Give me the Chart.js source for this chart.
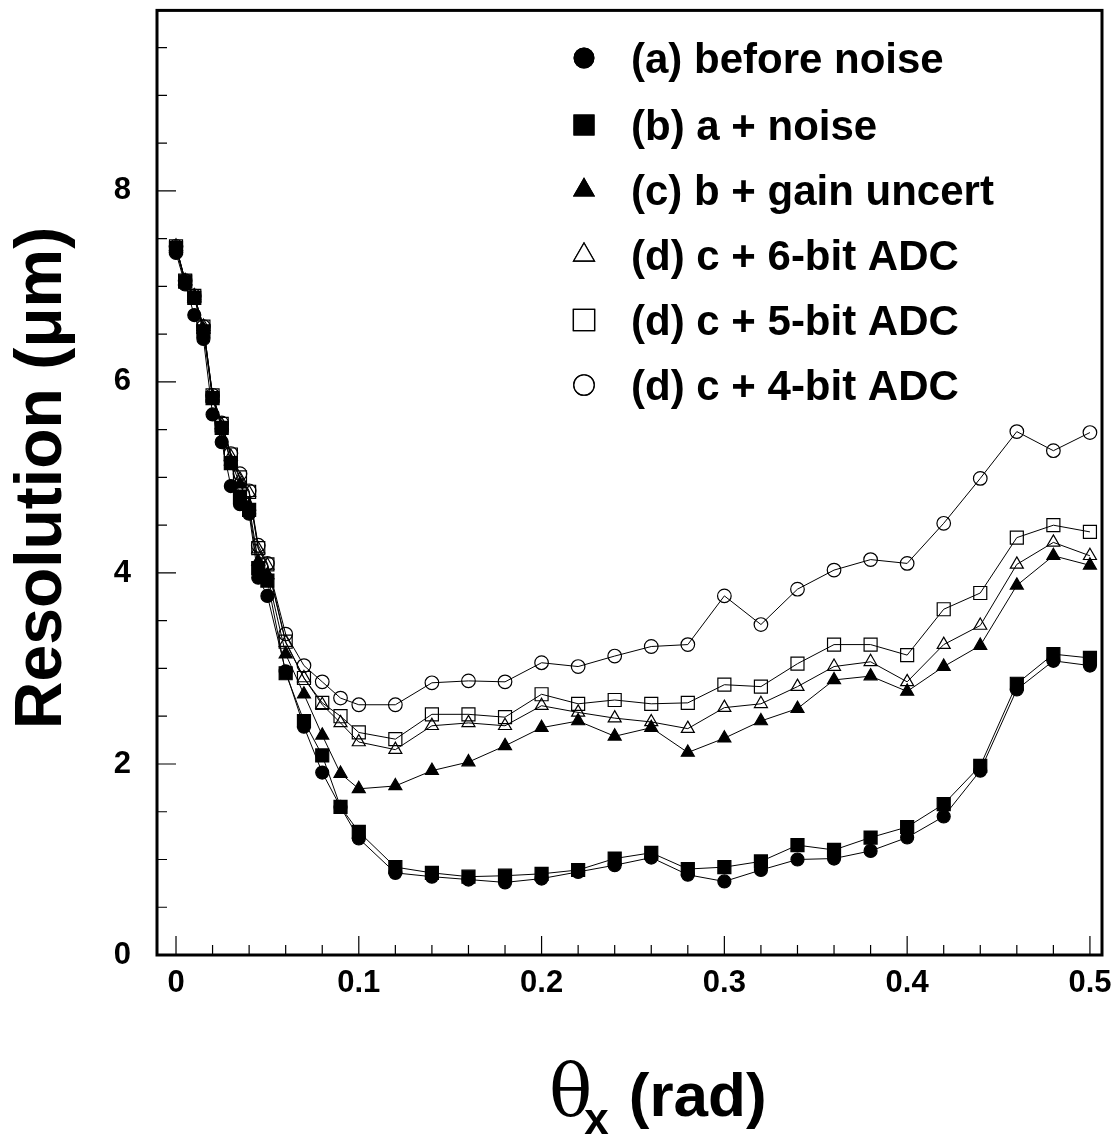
<!DOCTYPE html>
<html>
<head>
<meta charset="utf-8">
<script src="https://cdn.jsdelivr.net/npm/chart.js@4.4.1/dist/chart.umd.min.js"></script>
<style>
  html, body { margin: 0; padding: 0; background: #fff; }
  #wrap { width: 1113px; height: 1138px; }
</style>
</head>
<body>
<div id="wrap"><canvas id="chart" width="1113" height="1138"></canvas></div>
<script>
// theta_x (rad)
const thetaX = [0, 0.005, 0.01, 0.015, 0.02, 0.025, 0.03, 0.035, 0.04, 0.045, 0.05,
  0.06, 0.07, 0.08, 0.09, 0.1, 0.12, 0.14, 0.16, 0.18, 0.2, 0.22, 0.24, 0.26, 0.28,
  0.3, 0.32, 0.34, 0.36, 0.38, 0.4, 0.42, 0.44, 0.46, 0.48, 0.5];

// resolution (um)
const beforeNoise = [7.35, 7.02, 6.70, 6.45, 5.66, 5.37, 4.91, 4.72, 4.62, 3.95, 3.76,
  2.97, 2.39, 1.91, 1.55, 1.22, 0.86, 0.82, 0.79, 0.76, 0.80, 0.87, 0.94, 1.02, 0.84,
  0.77, 0.89, 1.00, 1.01, 1.09, 1.23, 1.45, 1.93, 2.78, 3.08, 3.03];
const withNoise = [7.40, 7.05, 6.88, 6.53, 5.83, 5.52, 5.15, 4.80, 4.66, 4.05, 3.92,
  2.95, 2.45, 2.09, 1.55, 1.29, 0.92, 0.86, 0.82, 0.83, 0.85, 0.89, 1.01, 1.07, 0.90,
  0.92, 0.98, 1.15, 1.10, 1.23, 1.34, 1.58, 1.98, 2.84, 3.15, 3.11];
const gainUncert = [7.40, 7.05, 6.88, 6.55, 5.83, 5.52, 5.17, 4.93, 4.70, 4.12, 3.98,
  3.15, 2.73, 2.30, 1.90, 1.74, 1.77, 1.93, 2.02, 2.19, 2.38, 2.45, 2.29, 2.38, 2.12,
  2.27, 2.45, 2.58, 2.88, 2.92, 2.76, 3.02, 3.24, 3.87, 4.18, 4.08];
const adc6 = [7.42, 7.06, 6.90, 6.58, 5.85, 5.55, 5.22, 4.98, 4.84, 4.25, 4.08,
  3.27, 2.90, 2.62, 2.43, 2.23, 2.15, 2.40, 2.43, 2.40, 2.61, 2.54, 2.48, 2.44, 2.37,
  2.59, 2.63, 2.81, 3.02, 3.07, 2.86, 3.25, 3.45, 4.09, 4.32, 4.18];
const adc5 = [7.42, 7.06, 6.90, 6.58, 5.86, 5.56, 5.24, 5.00, 4.85, 4.26, 4.09,
  3.28, 2.90, 2.64, 2.50, 2.33, 2.26, 2.52, 2.52, 2.49, 2.73, 2.63, 2.67, 2.63, 2.64,
  2.83, 2.81, 3.05, 3.25, 3.25, 3.14, 3.62, 3.79, 4.37, 4.50, 4.43];
const adc4 = [7.42, 7.06, 6.90, 6.58, 5.86, 5.57, 5.25, 5.04, 4.86, 4.29, 4.10,
  3.36, 3.03, 2.86, 2.69, 2.62, 2.62, 2.85, 2.87, 2.86, 3.06, 3.02, 3.13, 3.23, 3.25,
  3.76, 3.46, 3.83, 4.03, 4.14, 4.10, 4.52, 4.99, 5.48, 5.28, 5.47];

const seriesLabels = ['(a) before noise', '(b) a + noise', '(c) b + gain uncert',
  '(d) c + 6-bit ADC', '(d) c + 5-bit ADC', '(d) c + 4-bit ADC'];

const xTickValues = [0, 0.1, 0.2, 0.3, 0.4, 0.5];
const xTickLabels = ['0', '0.1', '0.2', '0.3', '0.4', '0.5'];
const yTickValues = [0, 2, 4, 6, 8];
const yTickLabels = ['0', '2', '4', '6', '8'];

const SANS = '"Liberation Sans", Arial, Helvetica, sans-serif';

// marker look per series: style, radius in plot, radius in legend, filled?
const markers = [
  { style: 'circle',   r: 6.5, lr: 9.8,  filled: true },
  { style: 'rect',     r: 9.2, lr: 14,   filled: true },
  { style: 'triangle', r: 7.5, lr: 11.5, filled: true },
  { style: 'triangle', r: 7.5, lr: 12,   filled: false },
  { style: 'rect',     r: 9.2, lr: 15,   filled: false },
  { style: 'circle',   r: 6.8, lr: 10.2, filled: false }
];

const allSeries = [beforeNoise, withNoise, gainUncert, adc6, adc5, adc4];

const datasets = allSeries.map((vals, i) => {
  const m = markers[i];
  return {
    label: seriesLabels[i],
    data: thetaX.map((x, k) => ({ x: x, y: vals[k] })),
    showLine: true,
    borderColor: '#000',
    borderWidth: 1,
    pointStyle: m.style,
    pointRadius: m.r,
    pointBorderWidth: 1.2,
    pointBorderColor: '#000',
    pointBackgroundColor: m.filled ? '#000' : 'rgba(255,255,255,0)',
    order: i
  };
});

// no extra room around the scales, the plot box is fixed
function noPad(s) {
  s.paddingTop = 0;
  s.paddingBottom = 0;
  s.paddingLeft = 0;
  s.paddingRight = 0;
}

// inward ticks, frame, legend and axis titles
const decorPlugin = {
  id: 'decor',
  afterDatasetsDraw(chart) {
    const ctx = chart.ctx;
    const a = chart.chartArea;
    const xs = chart.scales.x;
    const ys = chart.scales.y;
    ctx.save();
    ctx.strokeStyle = '#000';
    ctx.lineWidth = 1.2;
    ctx.beginPath();
    // x ticks: major every 0.1, minor every 0.02
    for (let k = 0; k <= 25; k++) {
      const px = xs.getPixelForValue(k * 0.02);
      const len = (k % 5 === 0) ? 19 : 10;
      ctx.moveTo(px, a.bottom);
      ctx.lineTo(px, a.bottom - len);
    }
    // y ticks: major every 2, minor every 0.5
    for (let k = 0; k <= 19; k++) {
      const py = ys.getPixelForValue(k * 0.5);
      const len = (k % 4 === 0) ? 19 : 10;
      ctx.moveTo(a.left, py);
      ctx.lineTo(a.left + len, py);
    }
    ctx.stroke();
    // frame
    ctx.lineWidth = 3;
    ctx.strokeRect(a.left, a.top, a.right - a.left, a.bottom - a.top);
    ctx.restore();
  },
  afterDraw(chart) {
    const ctx = chart.ctx;
    ctx.save();

    // legend
    const rowY = [58, 125, 190, 255, 320, 385];
    seriesLabels.forEach((txt, i) => {
      const m = markers[i];
      ctx.strokeStyle = '#000';
      ctx.fillStyle = m.filled ? '#000' : '#fff';
      ctx.lineWidth = 1.3;
      Chart.helpers.drawPoint(ctx, { pointStyle: m.style, radius: m.lr, borderWidth: 1.3 }, 584, rowY[i]);
      ctx.fill();
      ctx.stroke();
      ctx.fillStyle = '#000';
      ctx.font = 'bold 42px ' + SANS;
      ctx.textAlign = 'left';
      ctx.textBaseline = 'middle';
      ctx.fillText(txt, 631, rowY[i] + 3);
    });

    // y title
    ctx.save();
    ctx.translate(61, 478);
    ctx.rotate(-Math.PI / 2);
    ctx.font = 'bold 66px ' + SANS;
    ctx.textAlign = 'center';
    ctx.textBaseline = 'alphabetic';
    ctx.fillText('Resolution (\u03bcm)', 0, 0);
    ctx.restore();

    // x title: theta with subscript x, then (rad)
    ctx.fillStyle = '#000';
    ctx.textAlign = 'left';
    ctx.textBaseline = 'alphabetic';
    const base = 1116;
    const x0 = 549;
    ctx.font = '72px "DejaVu Serif", "Liberation Serif", serif';
    ctx.fillText('\u03b8', x0, base);
    const tw = ctx.measureText('\u03b8').width;
    ctx.font = 'bold 44px ' + SANS;
    ctx.fillText('x', x0 + tw - 8, base + 18);
    const xw = ctx.measureText('x').width;
    ctx.font = 'bold 62px ' + SANS;
    ctx.fillText('(rad)', x0 + tw + xw + 12, base);
    ctx.restore();
  }
};

new Chart(document.getElementById('chart'), {
  type: 'scatter',
  data: { datasets: datasets },
  options: {
    responsive: false,
    animation: false,
    layout: { padding: { top: 8, right: 11, left: 0, bottom: 0 } },
    plugins: { legend: { display: false }, tooltip: { enabled: false } },
    scales: {
      x: {
        type: 'linear',
        position: 'bottom',
        min: -0.0104,
        max: 0.5066,
        afterBuildTicks: s => { s.ticks = xTickValues.map(v => ({ value: v })); },
        afterFit: s => { s.height = 183; noPad(s); },
        grid: { display: false, drawTicks: false, tickLength: 0 },
        border: { display: false },
        ticks: {
          color: '#000',
          padding: 10,
          maxRotation: 0,
          autoSkip: false,
          font: { family: SANS, weight: 'bold', size: 31 },
          callback: (v, i) => xTickLabels[i]
        }
      },
      y: {
        type: 'linear',
        position: 'left',
        min: 0,
        max: 9.89,
        afterBuildTicks: s => { s.ticks = yTickValues.map(v => ({ value: v })); },
        afterFit: s => { s.width = 157; noPad(s); },
        grid: { display: false, drawTicks: false, tickLength: 0 },
        border: { display: false },
        ticks: {
          color: '#000',
          padding: 26,
          autoSkip: false,
          font: { family: SANS, weight: 'bold', size: 31 },
          callback: (v, i) => yTickLabels[i]
        }
      }
    }
  },
  plugins: [decorPlugin]
});
</script>
</body>
</html>
